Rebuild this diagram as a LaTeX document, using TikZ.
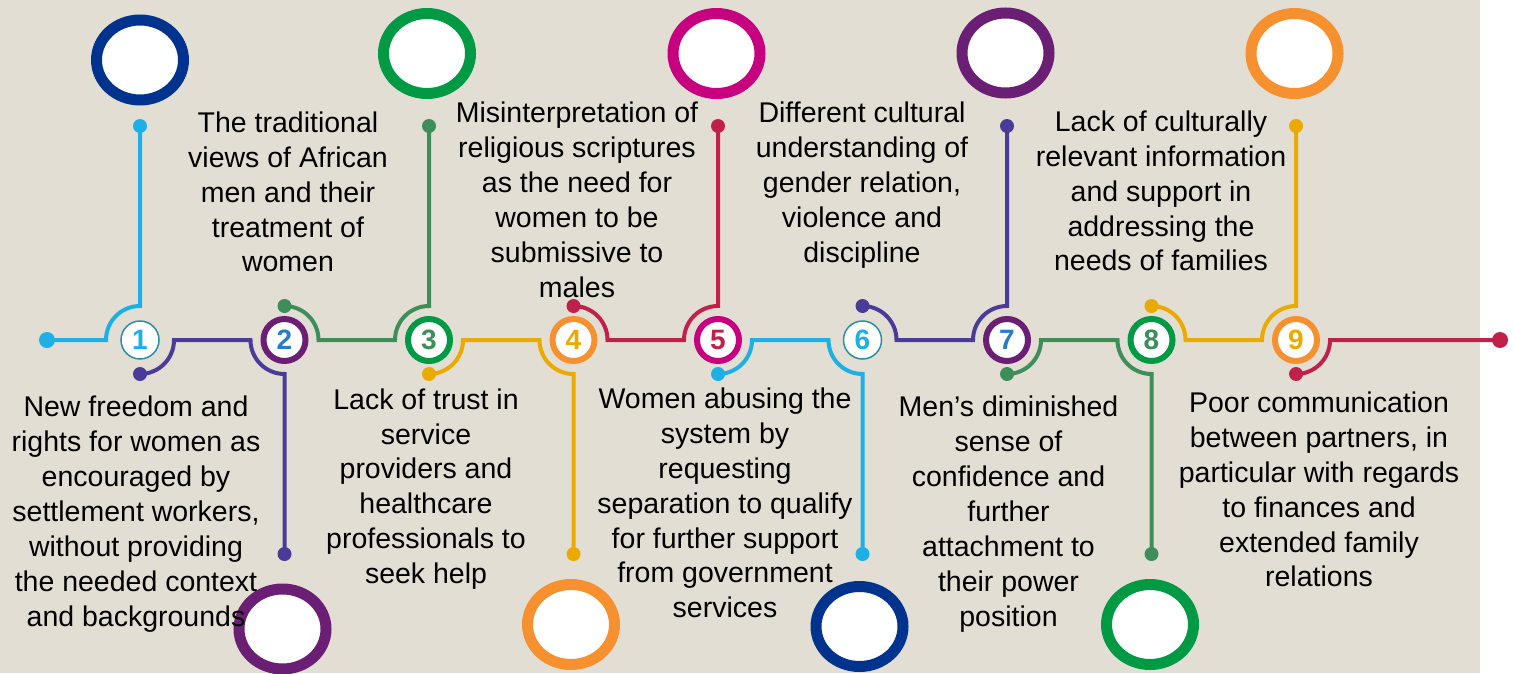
\documentclass[tikz,border=0pt]{standalone}
\usepackage{fontspec}
\setmainfont{Liberation Sans}
\usetikzlibrary{shapes.geometric}

\definecolor{paper}{HTML}{E3DED3}
\definecolor{navy}{HTML}{00338D}
\definecolor{ringgreen}{HTML}{009A44}
\definecolor{magenta}{HTML}{C6007E}
\definecolor{ringpurple}{HTML}{6A1E74}
\definecolor{orange}{HTML}{F7912F}
\definecolor{sky}{HTML}{1CB0E6}
\definecolor{indigo}{HTML}{4B3B98}
\definecolor{leaf}{HTML}{3E8E5A}
\definecolor{gold}{HTML}{EAAA00}
\definecolor{crimson}{HTML}{C0214B}
\definecolor{numblue}{HTML}{2B7BC0}
\definecolor{rimteal}{HTML}{2A8FA5}

\tikzset{%
	bead/.style={
		circle,
		fill=#1,
		inner sep=0pt,
		minimum size=14
	},
	wire/.style={
		draw=#1,
		line width=4
	},
	every step/.style={
		circle,
		fill=white,
		inner sep=0pt,
		font=\bfseries\fontsize{28}{28}\selectfont
	},
	big ring/.style={
		ellipse,
		draw=#1,
		line width=11,
		fill=white,
		inner sep=0pt,
		minimum width=87,
		minimum height=80
	},
	note/.style={
		align=center,
		inner sep=0pt,
		font=\fontsize{28.5}{34.9}\selectfont
	},
}

\begin{document}
\begin{tikzpicture}[x=1pt, y=1pt]

	\useasboundingbox (0,-333) rectangle (1514,340);
	\fill[paper] (0,-333) rectangle (1480,340);

	% dots on the line
	\node [bead=sky, minimum size=16] (head) at (47,0) {};
	\node [bead=crimson, minimum size=16] (tail) at (1500,0) {};

	\foreach \c/\s [count=\i] in {indigo/-1, leaf/1, gold/-1, crimson/1, sky/-1, indigo/1, leaf/-1, gold/1, crimson/-1}
	\node [bead=\c] (near-\i) at ({140+(\i-1)*144.5},{34*\s}) {};

	\foreach \c/\s [count=\i] in {sky/1, indigo/-1, leaf/1, gold/-1, crimson/1, sky/-1, indigo/1, leaf/-1, gold/1}
	\node [bead=\c] (far-\i) at ({140+(\i-1)*144.5},{214*\s}) {};

	% numbered steps
	\foreach \r/\w/\d/\t [count=\i] in {rimteal/1.5/38/sky, ringpurple/6/42/numblue, ringgreen/6/42/leaf, orange/6/42/gold, magenta/6/42/crimson, rimteal/1.5/38/sky, ringpurple/6/42/numblue, ringgreen/6/42/leaf, orange/6/42/gold}
	\node [every step, draw=\r, line width=\w, minimum size=\d, text=\t] (num-\i) at ({140+(\i-1)*144.5},0) {\i};

	% connectors
	\draw [wire=sky] (head.center) -- ++(59,0)
	arc [start angle=180, end angle=90, radius=34] -- (far-1.center);

	\foreach \c/\s [count=\i] in {indigo/-1, leaf/1, gold/-1, crimson/1, sky/-1, indigo/1, leaf/-1, gold/1}
	{
		\pgfmathtruncatemacro\j{\i+1}
		\draw [wire=\c] (near-\i.center) arc [start angle=90*\s, end angle=0, radius=34]
		-- ++(76.5,0) arc [start angle=180, end angle=180-90*\s, radius=34] -- (far-\j.center);
	}

	\draw [wire=crimson] (near-9.center)
	arc [start angle=-90, end angle=0, radius=34] -- (tail.center);

	% big rings
	\foreach \c/\x/\y [count=\i] in {navy/140/280, ringpurple/282.5/-289, ringgreen/427/286.5, orange/571/-284.5, magenta/716.5/286.5, navy/859.5/-286.5, ringpurple/1005.5/287, ringgreen/1150/-284.5, orange/1294.5/286.5}
	\node [big ring=\c] (ring-\i) at (\x,\y) {};

	% texts
	\node [note] (text-1) at (136,-174) {New freedom and\\ rights for women as\\ encouraged by\\ settlement workers,\\ without providing\\ the needed context\\ and backgrounds};
	\node [note] (text-2) at (288,148) {The traditional\\ views of African\\ men and their\\ treatment of\\ women};
	\node [note] (text-3) at (426,-149) {Lack of trust in\\ service\\ providers and\\ healthcare\\ professionals to\\ seek help};
	\node [note] (text-4) at (577,140) {Misinterpretation of\\ religious scriptures\\ as the need for\\ women to be\\ submissive to\\ males};
	\node [note] (text-5) at (725,-163) {Women abusing the\\ system by\\ requesting\\ separation to qualify\\ for further support\\ from government\\ services};
	\node [note] (text-6) at (862,155) {Different cultural\\ understanding of\\ gender relation,\\ violence and\\ discipline};
	\node [note] (text-7) at (1008.5,-174) {Men’s diminished\\ sense of\\ confidence and\\ further\\ attachment to\\ their power\\ position};
	\node [note] (text-8) at (1161,149) {Lack of culturally\\ relevant information\\ and support in\\ addressing the\\ needs of families};
	\node [note] (text-9) at (1319,-149.5) {Poor communication\\ between partners, in\\ particular with regards\\ to finances and\\ extended family\\ relations};

\end{tikzpicture}
\end{document}
